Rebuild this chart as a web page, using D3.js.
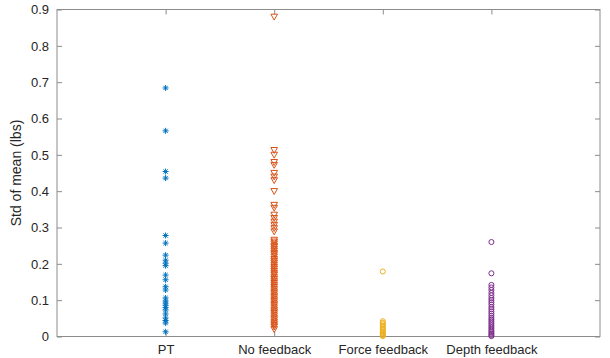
<!DOCTYPE html>
<html>
<head>
<meta charset="utf-8">
<script src="https://cdn.jsdelivr.net/npm/d3@7"></script>
<style>
  body { margin: 0; background: #fff; }
  text { font-family: "Liberation Sans", Arial, sans-serif; }
</style>
</head>
<body>
<div id="chart"></div>
<script>
"use strict";

const categories = ["PT", "No feedback", "Force feedback", "Depth feedback"];
const yTicks = [0, 0.1, 0.2, 0.3, 0.4, 0.5, 0.6, 0.7, 0.8, 0.9];

const ptValues = [0.684, 0.566, 0.454, 0.436, 0.278, 0.257, 0.224, 0.21, 0.202, 0.195,
    0.169, 0.156, 0.137, 0.128, 0.106, 0.098, 0.092, 0.086, 0.08, 0.073,
    0.062, 0.051, 0.044, 0.037, 0.013];
const noFeedbackValues = [0.88, 0.513, 0.5, 0.48, 0.472, 0.45, 0.44, 0.43, 0.40, 0.362,
    0.354, 0.335, 0.326, 0.316, 0.307, 0.298, 0.289, 0.266, 0.261, 0.256,
    0.25, 0.247, 0.241, 0.236, 0.23, 0.226, 0.22, 0.213, 0.208, 0.203,
    0.197, 0.191, 0.186, 0.18, 0.174, 0.17, 0.163, 0.158, 0.152, 0.147,
    0.141, 0.136, 0.13, 0.124, 0.119, 0.113, 0.108, 0.102, 0.097, 0.091,
    0.086, 0.08, 0.074, 0.069, 0.064, 0.058, 0.052, 0.047, 0.041, 0.036,
    0.031, 0.027, 0.02];
const forceValues = [0.179, 0.042, 0.038, 0.034, 0.03, 0.026, 0.022, 0.018, 0.014, 0.011,
    0.008, 0.005, 0.003, 0.001];
const depthValues = [0.26, 0.174, 0.142, 0.135, 0.128, 0.12, 0.113, 0.106, 0.1, 0.094,
    0.088, 0.081, 0.075, 0.069, 0.063, 0.057, 0.051, 0.046, 0.041, 0.036,
    0.031, 0.026, 0.021, 0.016, 0.012, 0.008, 0.004, 0.001];

const seriesValues = [ptValues, noFeedbackValues, forceValues, depthValues];
const seriesColors = ["#0072bd", "#d95319", "#edb120", "#7e2f8e"];
const seriesMarkers = ["asterisk", "triangleDown", "circle", "circle"];

const width = 610, height = 358;
const margin = {left: 57, right: 10, top: 9.5, bottom: 21.5};
const plotW = width - margin.left - margin.right;
const plotH = height - margin.top - margin.bottom;

const svg = d3.select("#chart").append("svg")
    .attr("width", width)
    .attr("height", height);

const g = svg.append("g")
    .attr("transform", `translate(${margin.left},${margin.top})`);

const xScale = d3.scaleLinear().domain([0, 5]).range([0, plotW]);
const yScale = d3.scaleLinear().domain([0, 0.9]).range([plotH, 0]);

const axisColor = "#8c8c8c";
const textColor = "#262626";

// box
g.append("rect")
    .attr("x", 0).attr("y", 0)
    .attr("width", plotW).attr("height", plotH)
    .attr("fill", "none")
    .attr("stroke", axisColor)
    .attr("stroke-width", 1);

// y axis (ticks point inward)
const yAxis = d3.axisLeft(yScale)
    .tickValues(yTicks)
    .tickSize(-5)
    .tickPadding(8)
    .tickFormat(d => d === 0 ? "0" : d3.format(".1f")(d));
const yg = g.append("g").call(yAxis);
yg.select(".domain").remove();
yg.selectAll("line").attr("stroke", axisColor);
yg.selectAll("text").attr("fill", textColor).style("font-size", "13px");

const yRight = g.append("g")
    .attr("transform", `translate(${plotW},0)`)
    .call(d3.axisRight(yScale).tickValues(yTicks).tickSize(-5).tickFormat(""));
yRight.select(".domain").remove();
yRight.selectAll("line").attr("stroke", axisColor);

// x axis
const xAxis = d3.axisBottom(xScale)
    .tickValues([1, 2, 3, 4])
    .tickSize(-5)
    .tickPadding(8)
    .tickFormat(d => categories[d - 1]);
const xg = g.append("g")
    .attr("transform", `translate(0,${plotH})`)
    .call(xAxis);
xg.select(".domain").remove();
xg.selectAll("line").attr("stroke", axisColor);
xg.selectAll("text").attr("fill", textColor).style("font-size", "13px");

const xTop = g.append("g")
    .call(d3.axisTop(xScale).tickValues([1, 2, 3, 4]).tickSize(-5).tickFormat(""));
xTop.select(".domain").remove();
xTop.selectAll("line").attr("stroke", axisColor);

// y label
g.append("text")
    .attr("text-anchor", "middle")
    .attr("transform", `translate(-36,${plotH / 2}) rotate(-90)`)
    .attr("fill", textColor)
    .style("font-size", "14px")
    .text("Std of mean (lbs)");

function markerPath(type) {
    const r = 3;
    if (type === "asterisk") {
        const d = r * Math.SQRT1_2;
        return `M0,${-r}L0,${r}M${-r},0L${r},0M${-d},${-d}L${d},${d}M${-d},${d}L${d},${-d}`;
    }
    if (type === "triangleDown") {
        return `M${-3.3},${-2.6}L3.3,${-2.6}L0,3.3Z`;
    }
    return d3.symbol(d3.symbolCircle, 20)();
}

seriesValues.forEach((values, i) => {
    g.append("g")
        .selectAll("path")
        .data(values)
        .join("path")
        .attr("transform", d => `translate(${xScale(i + 1)},${yScale(d)})`)
        .attr("d", markerPath(seriesMarkers[i]))
        .attr("fill", "none")
        .attr("stroke", seriesColors[i])
        .attr("stroke-width", 1);
});
</script>
</body>
</html>
